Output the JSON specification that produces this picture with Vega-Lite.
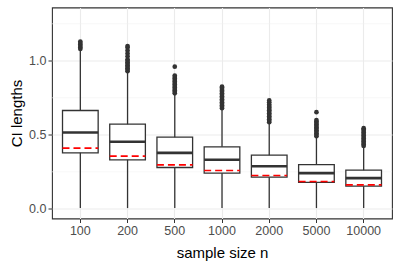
{
  "$schema": "https://vega.github.io/schema/vega-lite/v6.json",
  "width": 340,
  "height": 211,
  "autosize": {"type": "none"},
  "padding": {"left": 52, "top": 7.5, "right": 7, "bottom": 47.5},
  "background": "white",
  "config": {
    "view": {"stroke": "#333333", "strokeWidth": 1.1},
    "font": "Liberation Sans",
    "axis": {
      "labelFont": "Liberation Sans",
      "titleFont": "Liberation Sans",
      "labelColor": "#4D4D4D",
      "labelFontSize": 12.5,
      "titleFontSize": 15,
      "titleFontWeight": "normal",
      "titleColor": "#000000",
      "tickColor": "#333333",
      "tickSize": 4,
      "labelPadding": 2,
      "domain": false,
      "gridColor": "#EBEBEB",
      "gridWidth": 1.1
    }
  },
  "datasets": {
    "summary": [
      {"n": "100", "lo": 0.005, "q1": 0.378, "med": 0.516, "q3": 0.664, "hi": 1.07, "theo": 0.41},
      {"n": "200", "lo": 0.005, "q1": 0.331, "med": 0.453, "q3": 0.572, "hi": 0.925, "theo": 0.356},
      {"n": "500", "lo": 0.005, "q1": 0.279, "med": 0.378, "q3": 0.484, "hi": 0.775, "theo": 0.297},
      {"n": "1000", "lo": 0.005, "q1": 0.241, "med": 0.331, "q3": 0.419, "hi": 0.675, "theo": 0.259},
      {"n": "2000", "lo": 0.005, "q1": 0.214, "med": 0.288, "q3": 0.362, "hi": 0.58, "theo": 0.225},
      {"n": "5000", "lo": 0.005, "q1": 0.178, "med": 0.241, "q3": 0.299, "hi": 0.485, "theo": 0.184},
      {"n": "10000", "lo": 0.005, "q1": 0.153, "med": 0.207, "q3": 0.261, "hi": 0.42, "theo": 0.162}
    ],
    "outliers": [
      {"n": "100", "v": 1.08}, {"n": "100", "v": 1.09}, {"n": "100", "v": 1.10}, {"n": "100", "v": 1.11}, {"n": "100", "v": 1.12}, {"n": "100", "v": 1.13},
      {"n": "200", "v": 0.93}, {"n": "200", "v": 0.94}, {"n": "200", "v": 0.95}, {"n": "200", "v": 0.96}, {"n": "200", "v": 0.97}, {"n": "200", "v": 0.98}, {"n": "200", "v": 0.99}, {"n": "200", "v": 1.00}, {"n": "200", "v": 1.01}, {"n": "200", "v": 1.03}, {"n": "200", "v": 1.05}, {"n": "200", "v": 1.07}, {"n": "200", "v": 1.09}, {"n": "200", "v": 1.10},
      {"n": "500", "v": 0.78}, {"n": "500", "v": 0.79}, {"n": "500", "v": 0.80}, {"n": "500", "v": 0.81}, {"n": "500", "v": 0.82}, {"n": "500", "v": 0.83}, {"n": "500", "v": 0.84}, {"n": "500", "v": 0.85}, {"n": "500", "v": 0.86}, {"n": "500", "v": 0.87}, {"n": "500", "v": 0.88}, {"n": "500", "v": 0.89}, {"n": "500", "v": 0.90}, {"n": "500", "v": 0.96},
      {"n": "1000", "v": 0.68}, {"n": "1000", "v": 0.69}, {"n": "1000", "v": 0.70}, {"n": "1000", "v": 0.71}, {"n": "1000", "v": 0.72}, {"n": "1000", "v": 0.73}, {"n": "1000", "v": 0.74}, {"n": "1000", "v": 0.75}, {"n": "1000", "v": 0.76}, {"n": "1000", "v": 0.77}, {"n": "1000", "v": 0.78}, {"n": "1000", "v": 0.79}, {"n": "1000", "v": 0.80}, {"n": "1000", "v": 0.81}, {"n": "1000", "v": 0.82}, {"n": "1000", "v": 0.825},
      {"n": "2000", "v": 0.585}, {"n": "2000", "v": 0.595}, {"n": "2000", "v": 0.605}, {"n": "2000", "v": 0.615}, {"n": "2000", "v": 0.625}, {"n": "2000", "v": 0.635}, {"n": "2000", "v": 0.645}, {"n": "2000", "v": 0.655}, {"n": "2000", "v": 0.665}, {"n": "2000", "v": 0.675}, {"n": "2000", "v": 0.685}, {"n": "2000", "v": 0.695}, {"n": "2000", "v": 0.705}, {"n": "2000", "v": 0.72}, {"n": "2000", "v": 0.732},
      {"n": "5000", "v": 0.49}, {"n": "5000", "v": 0.50}, {"n": "5000", "v": 0.51}, {"n": "5000", "v": 0.52}, {"n": "5000", "v": 0.53}, {"n": "5000", "v": 0.54}, {"n": "5000", "v": 0.55}, {"n": "5000", "v": 0.56}, {"n": "5000", "v": 0.57}, {"n": "5000", "v": 0.58}, {"n": "5000", "v": 0.59}, {"n": "5000", "v": 0.60}, {"n": "5000", "v": 0.653},
      {"n": "10000", "v": 0.425}, {"n": "10000", "v": 0.435}, {"n": "10000", "v": 0.445}, {"n": "10000", "v": 0.455}, {"n": "10000", "v": 0.465}, {"n": "10000", "v": 0.475}, {"n": "10000", "v": 0.485}, {"n": "10000", "v": 0.495}, {"n": "10000", "v": 0.505}, {"n": "10000", "v": 0.515}, {"n": "10000", "v": 0.525}, {"n": "10000", "v": 0.535}, {"n": "10000", "v": 0.545}
    ]
  },
  "encoding": {
    "x": {
      "field": "n",
      "type": "nominal",
      "sort": ["100", "200", "500", "1000", "2000", "5000", "10000"],
      "scale": {"paddingInner": 0.245, "paddingOuter": 0.2225},
      "axis": {"title": "sample size n", "labelAngle": 0, "grid": true, "bandPosition": 0.5, "titlePadding": 8}
    }
  },
  "layer": [
    {
      "data": {"values": [{"g": 0.25}, {"g": 0.75}, {"g": 1.25}]},
      "mark": {"type": "rule", "color": "#F2F2F2", "strokeWidth": 0.6},
      "encoding": {
        "x": null,
        "y": {"field": "g", "type": "quantitative"}
      }
    },
    {
      "data": {"name": "summary"},
      "mark": {"type": "rule", "color": "#333333", "strokeWidth": 1.3},
      "encoding": {
        "y": {
          "field": "lo",
          "type": "quantitative",
          "scale": {"domain": [-0.0655, 1.36], "nice": false, "zero": false},
          "axis": {"title": "CI lengths", "values": [0, 0.5, 1], "format": ".1f", "titlePadding": 4}
        },
        "y2": {"field": "hi"}
      }
    },
    {
      "data": {"name": "summary"},
      "mark": {"type": "bar", "fill": "white", "stroke": "#333333", "strokeWidth": 1.3},
      "encoding": {
        "y": {"field": "q1", "type": "quantitative"},
        "y2": {"field": "q3"}
      }
    },
    {
      "data": {"name": "summary"},
      "mark": {"type": "rule", "color": "#333333", "strokeWidth": 2.6, "xOffset": -17.85, "x2Offset": 17.85},
      "encoding": {
        "x2": {"field": "n"},
        "y": {"field": "med", "type": "quantitative"}
      }
    },
    {
      "data": {"name": "summary"},
      "mark": {"type": "rule", "color": "#FF0000", "strokeWidth": 1.6, "strokeDash": [7, 4], "xOffset": -17.85, "x2Offset": 17.85},
      "encoding": {
        "x2": {"field": "n"},
        "y": {"field": "theo", "type": "quantitative"}
      }
    },
    {
      "data": {"name": "outliers"},
      "mark": {"type": "circle", "color": "#333333", "opacity": 1, "size": 22},
      "encoding": {
        "y": {"field": "v", "type": "quantitative"}
      }
    }
  ]
}
